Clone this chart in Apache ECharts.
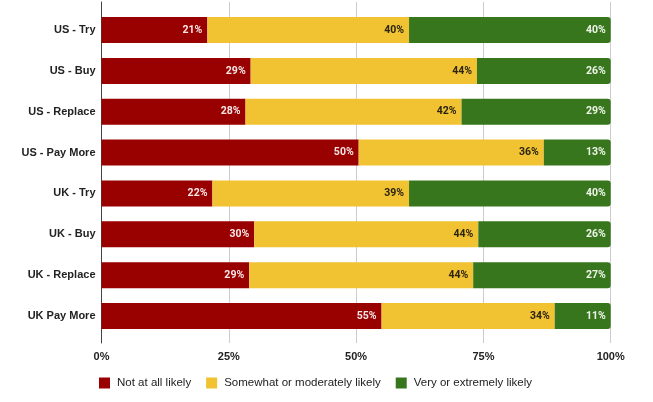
<!DOCTYPE html>
<html>
<head>
<meta charset="utf-8">
<script src="https://cdn.jsdelivr.net/npm/echarts@6/dist/echarts.min.js"></script>
<style>html,body{margin:0;padding:0;background:#fff;}#c{width:653px;height:402px;}</style>
</head>
<body>
<div id="c"></div>
<script>
const categories = ['US - Try', 'US - Buy', 'US - Replace', 'US - Pay More', 'UK - Try', 'UK - Buy', 'UK - Replace', 'UK Pay More'];
const notLikely = [21, 29, 28, 50, 22, 30, 29, 55];
const somewhatLikely = [40, 44, 42, 36, 39, 44, 44, 34];
const veryLikely = [40, 26, 29, 13, 40, 26, 27, 11];
const seriesNames = ['Not at all likely', 'Somewhat or moderately likely', 'Very or extremely likely'];
const xTicks = [0, 25, 50, 75, 100];

const raw = [notLikely, somewhatLikely, veryLikely];
const totals = categories.map((_, i) => notLikely[i] + somewhatLikely[i] + veryLikely[i]);
const norm = arr => arr.map((v, i) => v / totals[i] * 100);

const colors = ['#990000', '#f1c232', '#38761d'];
const labelColors = ['#f6e6e6', '#2a2410', '#eef4ea'];
const font = '"Liberation Sans", Arial, sans-serif';

const chart = echarts.init(document.getElementById('c'), null, {renderer: 'canvas'});
const series = raw.map((arr, s) => ({
  name: seriesNames[s],
  type: 'bar',
  stack: 'total',
  xAxisIndex: 0,
  yAxisIndex: 0,
  barWidth: 26,
  data: norm(arr),
  itemStyle: {color: colors[s], borderRadius: s === 2 ? [0, 3, 3, 0] : 0},
  label: {
    show: true,
    position: 'insideRight',
    distance: 5,
    color: labelColors[s],
    fontFamily: 'Roboto, sans-serif',
    fontWeight: 'bold',
    fontSize: 10.5,
    formatter: p => raw[s][p.dataIndex] + '%'
  },
  emphasis: {disabled: true},
  animation: false
}));

chart.setOption({
  animation: false,
  grid: [
    {left: 101.5, right: 42.3, top: 9.6, bottom: 65.6},
    {left: 101.5, right: 42.3, top: 2, bottom: 59}
  ],
  legend: {
    data: seriesNames,
    left: 99,
    top: 377,
    padding: 0,
    itemWidth: 11,
    itemHeight: 11,
    itemGap: 15,
    icon: 'rect',
    textStyle: {fontFamily: font, fontSize: 11.5, color: '#222', padding: [0, 0, 0, 2]}
  },
  xAxis: [
    {type: 'value', gridIndex: 0, min: 0, max: 100, interval: 25, show: false, splitLine: {show: false}},
    {type: 'value', gridIndex: 1, min: xTicks[0], max: xTicks[xTicks.length - 1], interval: 25,
     axisLine: {show: false}, axisTick: {show: false},
     splitLine: {show: true, lineStyle: {color: '#cccccc', width: 1}},
     axisLabel: {formatter: v => v + '%', fontFamily: font, fontWeight: 'bold', fontSize: 11, color: '#222', margin: 8}}
  ],
  yAxis: [
    {type: 'category', gridIndex: 0, data: categories, inverse: true, z: 5,
     axisLine: {show: false}, axisTick: {show: false}, splitLine: {show: false},
     axisLabel: {fontFamily: font, fontWeight: 'bold', fontSize: 11, color: '#222', margin: 6}},
    {type: 'value', gridIndex: 1, min: 0, max: 1,
     axisLine: {show: true, lineStyle: {color: '#444', width: 1}},
     axisTick: {show: false}, axisLabel: {show: false}, splitLine: {show: false}}
  ],
  series: series
});
</script>
</body>
</html>
